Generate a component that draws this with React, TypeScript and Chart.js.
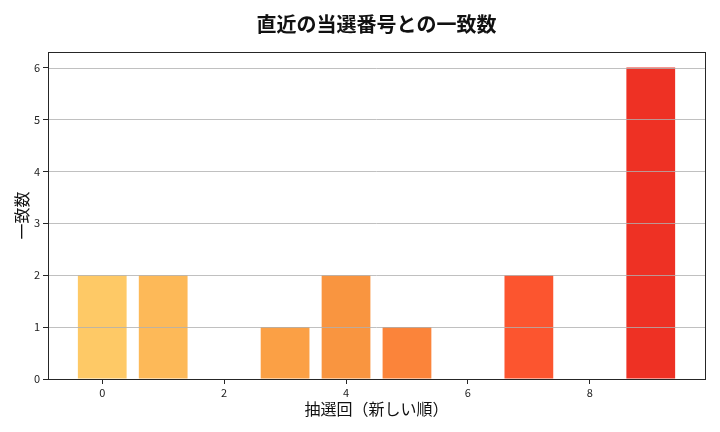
import React, { useEffect, useRef } from "react";
import { Chart, registerables } from "chart.js";

Chart.register(...registerables);

const drawIndex = [0, 1, 2, 3, 4, 5, 6, 7, 8, 9];
const matchCounts = [2, 2, 0, 1, 2, 1, 0, 2, 0, 6];
const barColors = [
  "#FEC966", "#FDB958", "#FCAA4C", "#FBA045", "#F99540",
  "#FB843A", "#FC6B34", "#FC552F", "#F54329", "#EE3124",
];
const xTicks = [0, 2, 4, 6, 8];
const yTicks = [0, 1, 2, 3, 4, 5, 6];

const FONT = "'Noto Sans CJK JP', 'Noto Sans', sans-serif";

const overlayPlugin = {
  id: "overlayGridFrame",
  afterDatasetsDraw(chart: any) {
    const { ctx, chartArea } = chart;
    const y = chart.scales.y;
    ctx.save();
    ctx.strokeStyle = "#b0b0b0";
    ctx.lineWidth = 0.8;
    yTicks.forEach((v) => {
      const py = Math.round(y.getPixelForValue(v)) + 0.5;
      ctx.beginPath();
      ctx.moveTo(chartArea.left, py);
      ctx.lineTo(chartArea.right, py);
      ctx.stroke();
    });
    ctx.strokeStyle = "#262626";
    ctx.lineWidth = 1;
    ctx.strokeRect(
      Math.round(chartArea.left) + 0.5,
      Math.round(chartArea.top) + 0.5,
      Math.round(chartArea.right - chartArea.left),
      Math.round(chartArea.bottom - chartArea.top)
    );
    ctx.restore();
  },
};

export default function App() {
  const ref = useRef<HTMLCanvasElement | null>(null);
  useEffect(() => {
    if (!ref.current) return;
    const chart = new Chart(ref.current, {
      type: "bar",
      data: {
        datasets: [
          {
            data: drawIndex.map((x, i) => ({ x, y: matchCounts[i] })),
            backgroundColor: barColors,
            borderWidth: 0,
            barPercentage: 0.8,
            categoryPercentage: 1.0,
          },
        ],
      },
      options: {
        animation: false,
        responsive: false,
        maintainAspectRatio: false,
        layout: { padding: { left: 0, right: 15, top: 0, bottom: 0 } },
        plugins: {
          legend: { display: false },
          tooltip: { enabled: false },
          title: {
            display: true,
            fullSize: false,
            text: "直近の当選番号との一致数",
            color: "#111",
            font: { family: FONT, size: 20, weight: "bold" },
            padding: { top: 12, bottom: 16 },
          },
        },
        scales: {
          x: {
            type: "linear",
            offset: false,
            min: -0.89,
            max: 9.89,
            afterBuildTicks: (s: any) => {
              s.ticks = xTicks.map((v) => ({ value: v }));
            },
            afterFit: (s: any) => {
              s.height = 53;
            },
            grid: {
              offset: false,
              drawOnChartArea: false,
              drawTicks: true,
              tickLength: 5,
              color: "#262626",
            },
            border: { display: true, color: "#262626", width: 1 },
            ticks: {
              color: "#222",
              font: { family: FONT, size: 11 },
              padding: 2,
              maxRotation: 0,
            },
            title: {
              display: true,
              text: "抽選回（新しい順）",
              color: "#111",
              font: { family: FONT, size: 16 },
              padding: { top: 2, bottom: 13 },
            },
          },
          y: {
            min: 0,
            max: 6.3,
            afterBuildTicks: (s: any) => {
              s.ticks = yTicks.map((v) => ({ value: v }));
            },
            afterFit: (s: any) => {
              s.width = 48;
            },
            grid: {
              drawOnChartArea: false,
              drawTicks: true,
              tickLength: 5,
              color: "#262626",
            },
            border: { display: true, color: "#262626", width: 1 },
            ticks: {
              color: "#222",
              font: { family: FONT, size: 11 },
              padding: 3,
            },
            title: {
              display: true,
              text: "一致数",
              color: "#111",
              font: { family: FONT, size: 16 },
              padding: { top: 12, bottom: 4 },
            },
          },
        },
      },
      plugins: [overlayPlugin],
    } as any);
    return () => chart.destroy();
  }, []);
  return (
    <div style={{ position: "fixed", left: 0, top: 0, width: 720, height: 432, background: "#fff" }}>
      <canvas ref={ref} width={720} height={432} style={{ width: 720, height: 432 }} />
    </div>
  );
}
